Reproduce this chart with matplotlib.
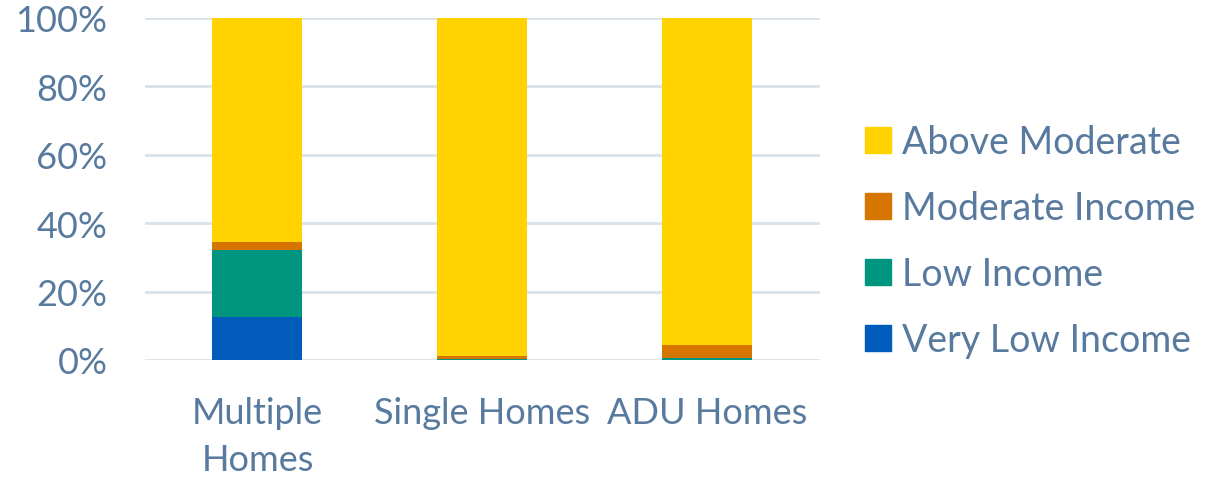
import matplotlib.pyplot as plt
from matplotlib.ticker import PercentFormatter
from matplotlib.patches import Patch

categories = ["Multiple\nHomes", "Single Homes", "ADU Homes"]
very_low = [12.7, 0.0, 0.0]
low = [19.5, 0.2, 0.5]
moderate = [2.2, 1.1, 4.0]
above = [65.6, 98.7, 95.5]

series = [
    ("Very Low Income", very_low, "#005bbb"),
    ("Low Income", low, "#00957f"),
    ("Moderate Income", moderate, "#d67500"),
    ("Above Moderate", above, "#ffd200"),
]

text_color = "#587a9e"
plt.rcParams['font.family'] = ['Lato', 'DejaVu Sans']

fig = plt.figure(figsize=(12.13, 4.81), dpi=100)
ax = fig.add_axes([0.1195, 0.2495, 0.5565, 0.711])

x = range(len(categories))
bottom = [0.0] * len(categories)
for name, vals, color in series:
    ax.bar(x, vals, width=0.4, bottom=bottom, color=color, label=name, zorder=3)
    bottom = [b + v for b, v in zip(bottom, vals)]

ax.set_xlim(-0.5, 2.5)
ax.set_ylim(0, 100)
ax.set_yticks([0, 20, 40, 60, 80, 100])
ax.yaxis.set_major_formatter(PercentFormatter(decimals=0))
ax.set_xticks(list(x))
ax.set_xticklabels(categories, linespacing=1.5)
ax.tick_params(axis='both', length=0, labelsize=26, colors=text_color)
ax.tick_params(axis='y', pad=27)
ax.tick_params(axis='x', pad=26)
ax.grid(axis='y', color="#d9e1ea", linewidth=2, zorder=0)
for s in ax.spines.values():
    s.set_visible(False)
ax.set_axisbelow(True)

handles = [Patch(color=c, label=n) for n, _, c in reversed(series)]
fig.legend(handles=handles, loc='center left', bbox_to_anchor=(0.704, 0.497),
           frameon=False, fontsize=27, labelcolor=text_color,
           handlelength=0.68, handleheight=0.68, handletextpad=0.3,
           labelspacing=0.8, borderaxespad=0, borderpad=0.3)

fig.savefig("out.png", dpi=100)
